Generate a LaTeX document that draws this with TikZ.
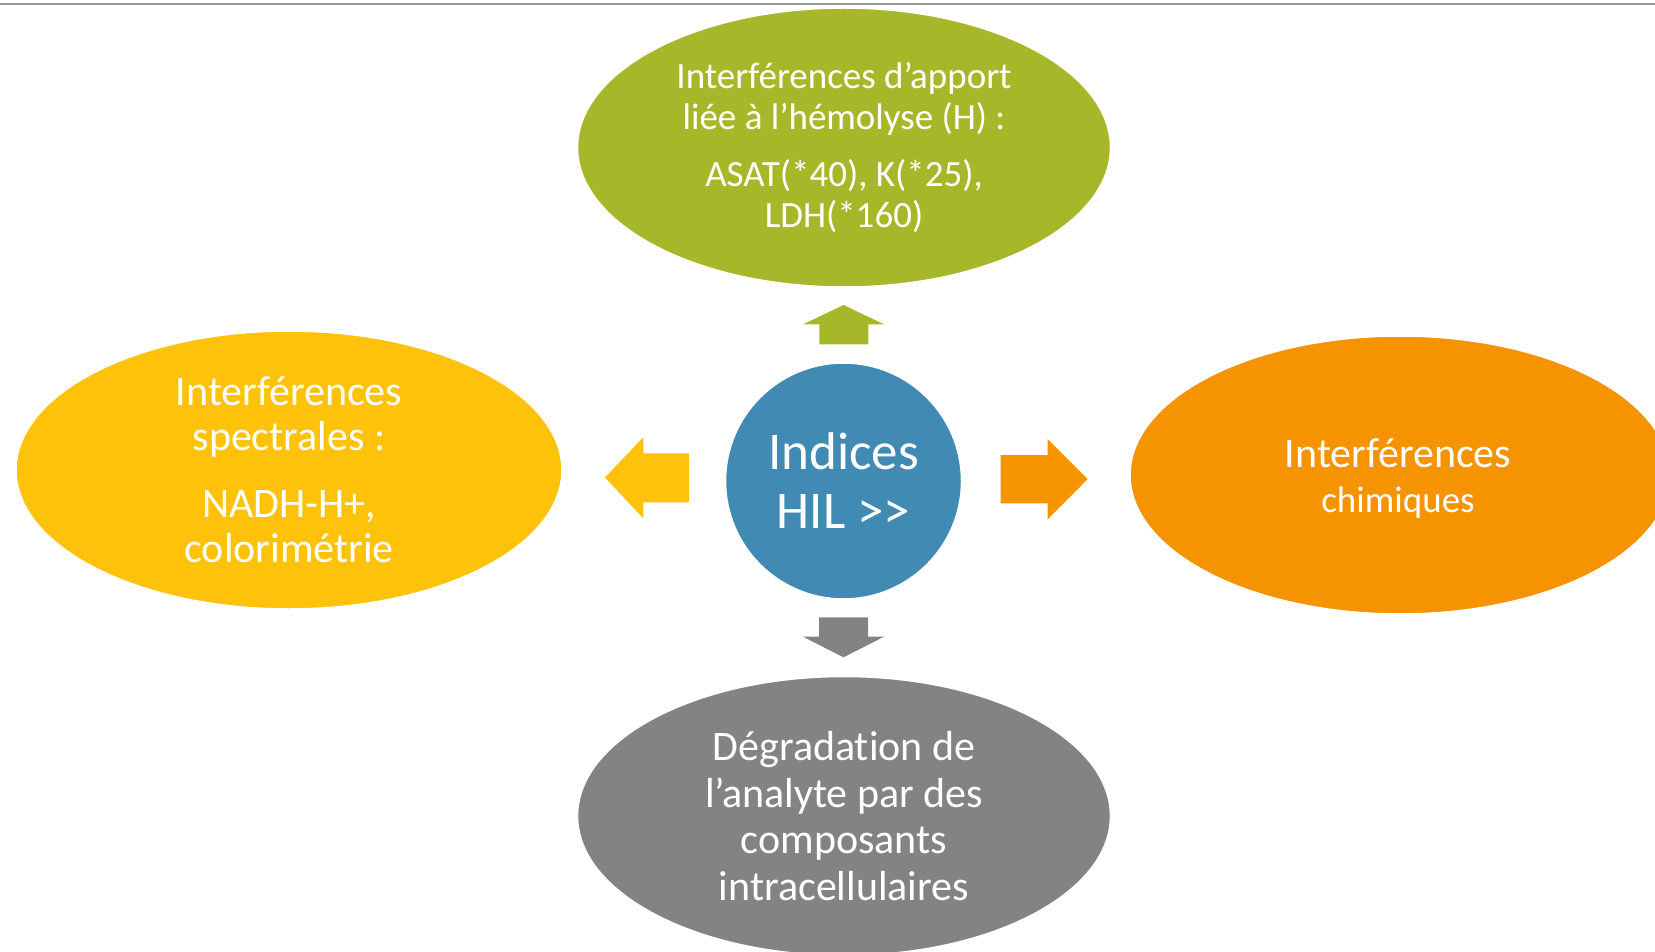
\documentclass[tikz,border=0pt]{standalone}
\usepackage{fontspec}
\setmainfont{Carlito}[Ligatures={CommonOff}]
\usetikzlibrary{shapes.geometric}
\definecolor{cgreen}{HTML}{A6B82A}
\definecolor{cyellow}{HTML}{FEC20B}
\definecolor{corange}{HTML}{F59300}
\definecolor{cblue}{HTML}{418AB3}
\definecolor{cgray}{HTML}{838383}
\definecolor{cline}{HTML}{999999}
\begin{document}
\begin{tikzpicture}[x=1pt,y=-1pt,
  blob/.style={ellipse, draw=white, line width=1.5pt, inner sep=0pt, text=white, align=center},
  hub/.style={circle, draw=white, line width=1.5pt, inner sep=0pt, text=white, align=center},
  blockarrow/.style={draw=none}
]
\useasboundingbox (0,0) rectangle (1655,952);
\clip (0,0) rectangle (1655,952);
\draw[cline, line width=1.5pt] (0,4) -- (1655,4);

\node[blob, fill=cgreen, minimum width=533pt, minimum height=279pt,
  font=\fontsize{37}{41}\selectfont] (top) at (844,147.5)
  {Interférences d’apport\\liée à l’hémolyse (H) :\\[16pt]ASAT(*40), K(*25),\\LDH(*160)};

\node[blob, fill=cyellow, minimum width=546pt, minimum height=278pt,
  font=\fontsize{42}{45.5}\selectfont] (left) at (289,470)
  {Interférences\\spectrales :\\[21pt]NADH-H+,\\colorimétrie};

\node[blob, fill=corange, minimum width=540pt, minimum height=278pt,
  inner sep=0pt] (right) at (1400,475) {};
\node[text=white, align=center, font=\fontsize{42}{45}\selectfont, inner sep=0pt]
  (righttext) at ([xshift=-2pt,yshift=-3.5pt]right.center)
  {Interférences\\{\fontsize{37}{45}\selectfont chimiques}};

\node[blob, fill=cgray, minimum width=533pt, minimum height=279pt,
  font=\fontsize{42}{46.5}\selectfont] (bottom) at (844,816)
  {Dégradation de\\l’analyte par des\\composants\\intracellulaires};

\node[hub, fill=cblue, minimum size=236pt,
  font=\fontsize{53}{59}\selectfont] (hub) at (843.5,481)
  {Indices\\HIL >\kern0pt>};

% block arrows
\fill[cgreen, blockarrow] (819.3,344.3) -- (819.3,324.3) -- (803.3,324.3) -- (843.5,305) -- (884,324.3) -- (868.3,324.3) -- (868.3,344.3) -- cycle;
\fill[cgray, blockarrow] (819,617.3) -- (868,617.3) -- (868,636.7) -- (884,636.7) -- (843.5,657.3) -- (803,636.7) -- (819,636.7) -- cycle;
\fill[cyellow, blockarrow] (689,453.3) -- (643.3,453.3) -- (643.3,437.3) -- (605,477.5) -- (643.3,518.3) -- (643.3,502.3) -- (689,502.3) -- cycle;
\fill[corange, blockarrow] (1000.7,455) -- (1047.7,455) -- (1047.7,439) -- (1087.7,479) -- (1047.7,519.3) -- (1047.7,503.3) -- (1000.7,503.3) -- cycle;
\end{tikzpicture}
\end{document}
